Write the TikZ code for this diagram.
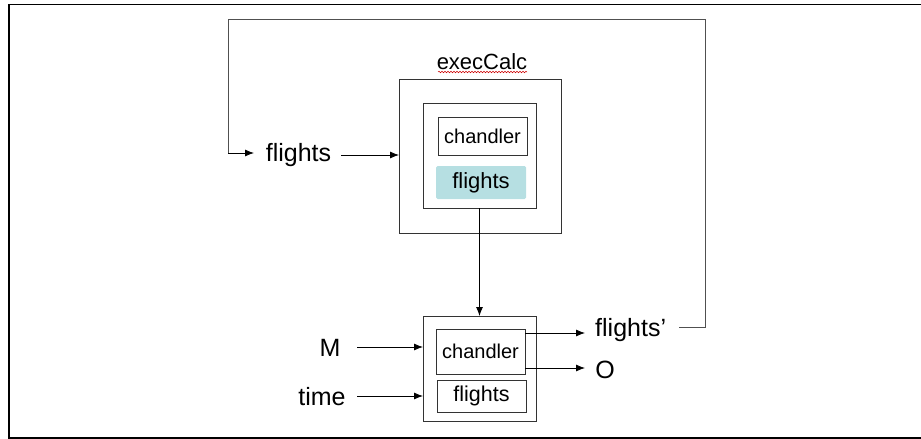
\documentclass[tikz,border=0pt]{standalone}
\usepackage{fontspec}
\setmainfont{Liberation Sans}
\usetikzlibrary{arrows.meta,decorations.pathmorphing}
\definecolor{boxline}{HTML}{333333}
\definecolor{loopline}{HTML}{505050}
\definecolor{shade}{HTML}{B6DFE2}
\tikzset{
  px/.style={x=1pt,y=-1pt},
  frame/.style={draw=boxline,line width=0.9pt,inner sep=0pt,outer sep=0pt},
  label/.style={inner sep=0pt,font=\fontsize{25}{28}\selectfont},
  boxtext/.style={inner sep=0pt,font=\fontsize{20}{24}\selectfont},
  conn/.style={draw=black,line width=0.8pt,-{Latex[length=9pt,width=7pt]}},
  loop/.style={draw=loopline,line width=0.9pt},
}
\begin{document}
\begin{tikzpicture}[px]
\useasboundingbox (0,0) rectangle (921,439);
% page frame (open on the right)
\draw[line width=1.2pt] (925,4.5) -- (9,4.5) -- (9,438) -- (925,438);

% upper block: execCalc
\node[inner sep=0pt,font=\fontsize{22}{26}\selectfont] (exec) at (482,62) {execCalc};
\draw[red!80!black,line width=0.5pt,decorate,decoration={snake,amplitude=0.8pt,segment length=3pt}]
  (438,72) -- (527,72);
\node[frame,minimum width=162pt,minimum height=154pt] (outerT) at (480,156) {};
\node[frame,minimum width=113pt,minimum height=105pt] (innerT) at (479.5,155.5) {};
\node[frame,minimum width=89pt,minimum height=38pt,boxtext] (chandT) at (482.5,136) {chandler};
\node[fill=shade,rounded corners=1.5pt,minimum width=90pt,minimum height=33pt,inner sep=0pt,
      font=\fontsize{22}{26}\selectfont] (flT) at (481,182.5) {flights};

% lower block
\node[frame,minimum width=113pt,minimum height=105pt] (outerB) at (479.5,368.5) {};
\node[frame,minimum width=89pt,minimum height=45pt,boxtext] (chandB) at (480.5,351.5) {chandler};
\node[frame,minimum width=89pt,minimum height=32pt,inner sep=0pt,
      font=\fontsize{21.5}{26}\selectfont] (flB) at (481.5,396) {flights};

% labels
\node[label] (flIn) at (298.5,155) {flights};
\node[label] (M) at (330,348) {M};
\node[label] (time) at (322,397) {time};
\node[label,anchor=west] (flOut) at (595,330) {flights’};
\node[label] (O) at (605,370) {O};

% connectors
\draw[conn] (flIn.east) ++(10pt,0) coordinate (a) -- (outerT.west |- a);
\draw[conn] (innerT.south) -- (outerB.north);
\draw[conn] (357,347) coordinate (m0) -- (outerB.west |- m0);
\draw[conn] (357,396) coordinate (t0) -- (outerB.west |- t0);
\draw[conn] (chandB.east |- 0,333) -- (585,333);
\draw[conn] (chandB.east |- 0,368) -- (585,368);

% feedback loop from flights' back to flights
\coordinate (l0) at (679,327);
\coordinate (l1) at (705,19);
\coordinate (l2) at (228,153);
\coordinate (l3) at (254,153);
\draw[loop] (l0) -- (l0 -| l1) -- (l1) -- (l2 |- l1) -- (l2);
\draw[conn] (l2) -- (l3);
\end{tikzpicture}
\end{document}
